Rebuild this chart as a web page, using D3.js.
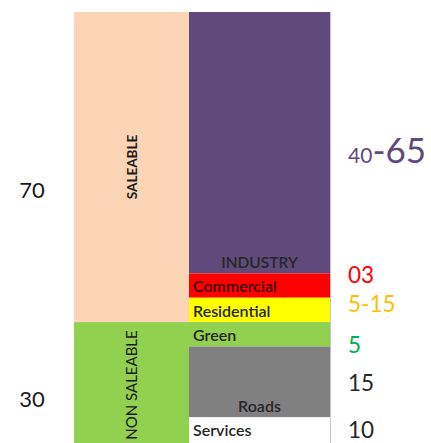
<!DOCTYPE html>
<html lang="en">
<head>
    <style>
        body { margin: 0; background: #fff; }
        svg { display: block; }
    </style>
</head>
<body>
    <svg></svg>
    <script src="https://cdn.jsdelivr.net/npm/d3@7/dist/d3.min.js"></script>
    <script>
        // Data
        const groups = ["SALEABLE", "NON SALEABLE"];
        const groupValues = [70, 30];
        const groupColors = ["#fbd5b5", "#92d050"];

        const uses = ["INDUSTRY", "Commercial", "Residential", "Green", "Roads", "Services"];
        const useSizes = [59, 5.5, 5.5, 5.5, 16, 8.5];   // drawn block size
        const useLabels = ["40-65", "03", "5-15", "5", "15", "10"];
        const useColors = ["#604a7b", "#ff0000", "#ffff00", "#92d050", "#808080", "#ffffff"];
        const labelColors = ["#604a7b", "#ff0000", "#ffc000", "#00b050", "#262626", "#262626"];

        const width = 431, height = 443;
        const svg = d3.select("svg").attr("width", width).attr("height", height);
        const font = "Lato, 'Open Sans', sans-serif";

        const y = d3.scaleLinear().domain([0, 100]).range([12, 455]);
        const x = d3.scaleOrdinal().domain(["group", "use", "end"]).range([74, 189, 330]);

        // stack helper
        const stack = arr => {
            let acc = 0;
            return arr.map(v => { const s = acc; acc += v; return [s, acc]; });
        };
        const gStack = stack(groupValues);
        const uStack = stack(useSizes);

        /*****************************************************
        * Left column: saleable / non saleable
        *****************************************************/
        svg.selectAll("rect.group").data(groups).enter().append("rect")
            .attr("class", "group")
            .attr("x", x("group"))
            .attr("y", (d, i) => y(gStack[i][0]))
            .attr("width", x("use") - x("group"))
            .attr("height", (d, i) => y(gStack[i][1]) - y(gStack[i][0]))
            .attr("fill", (d, i) => groupColors[i]);

        // group text inside (rotated)
        const gCenters = [167, 385];
        svg.selectAll("text.gname").data(groups).enter().append("text")
            .attr("class", "gname")
            .attr("transform", (d, i) => `translate(${(x("group") + x("use")) / 2 + 5}, ${gCenters[i]}) rotate(-90)`)
            .attr("text-anchor", "middle")
            .attr("font-family", font)
            .attr("font-weight", (d, i) => i === 0 ? "bold" : "normal")
            .attr("font-size", (d, i) => i === 0 ? 13.5 : 15)
            .attr("fill", "#1a1a1a")
            .text(d => d);

        // group values on the far left
        svg.selectAll("text.gval").data(groupValues).enter().append("text")
            .attr("class", "gval")
            .attr("x", 32)
            .attr("y", (d, i) => [198, 407][i])
            .attr("text-anchor", "middle")
            .attr("font-family", font)
            .attr("font-size", 22)
            .attr("fill", "#1a1a1a")
            .text(d => d);

        /*****************************************************
        * Right column: land uses
        *****************************************************/
        svg.selectAll("rect.use").data(uses).enter().append("rect")
            .attr("class", "use")
            .attr("x", x("use"))
            .attr("y", (d, i) => y(uStack[i][0]))
            .attr("width", x("end") - x("use"))
            .attr("height", (d, i) => y(uStack[i][1]) - y(uStack[i][0]))
            .attr("fill", (d, i) => useColors[i]);

        // light edge on right
        svg.append("line")
            .attr("x1", x("end") + 0.5).attr("x2", x("end") + 0.5)
            .attr("y1", y(0)).attr("y2", height)
            .attr("stroke", "#c9c0d6").attr("stroke-width", 1);

        // names inside blocks
        const centered = d => d === "INDUSTRY" || d === "Roads";
        svg.selectAll("text.uname").data(uses).enter().append("text")
            .attr("class", "uname")
            .attr("x", d => centered(d) ? (x("use") + x("end")) / 2 : x("use") + 4)
            .attr("y", (d, i) => y(uStack[i][centered(d) ? 1 : 0]) + (centered(d) ? -5 : 19))
            .attr("text-anchor", d => centered(d) ? "middle" : "start")
            .attr("font-family", font)
            .attr("font-size", d => d === "INDUSTRY" ? 15.5 : 16)
            .attr("font-weight", 600)
            .attr("fill", (d, i) => i === 1 ? "#3a0000" : "#262626")
            .text(d => d);

        // values to the right
        const valY = [163, 283, 312, 353, 391, 438];
        const vals = svg.selectAll("text.uval").data(useLabels).enter().append("text")
            .attr("class", "uval")
            .attr("x", 348)
            .attr("y", (d, i) => valY[i])
            .attr("font-family", font)
            .attr("font-size", 22.5)
            .attr("fill", (d, i) => labelColors[i]);

        vals.each(function(d, i) {
            const t = d3.select(this);
            if (i === 0) {
                const parts = d.split("-");
                t.append("tspan").attr("font-size", 21).text(parts[0]);
                t.append("tspan").attr("font-size", 35).text("-" + parts[1]);
            } else {
                t.text(d);
            }
        });
    </script>
</body>
</html>
